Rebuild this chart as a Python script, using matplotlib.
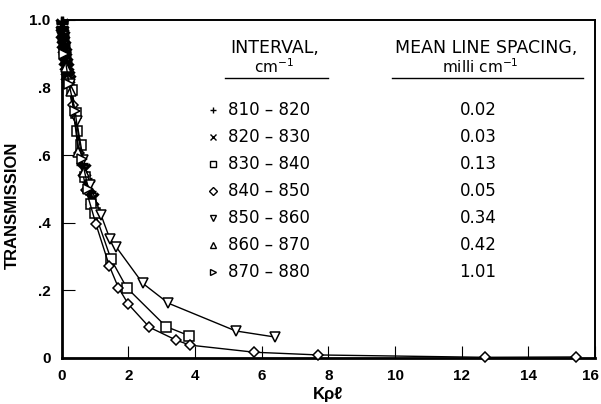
import matplotlib
matplotlib.use("Agg")
import matplotlib.pyplot as plt
import matplotlib.transforms as mtransforms

plt.rcParams['font.family'] = ['Liberation Sans', 'DejaVu Sans']

# ---- data ----
plus_x = [0.0, 0.01, 0.015, 0.02, 0.03, 0.04, 0.05, 0.06, 0.07, 0.09, 0.11, 0.13, 0.62, 0.74, 0.86]
plus_y = [0.995, 0.99, 0.98, 0.97, 0.96, 0.95, 0.94, 0.93, 0.92, 0.905, 0.89, 0.875, 0.575, 0.53, 0.49]

cross_x = [0.01, 0.02, 0.04, 0.05, 0.07, 0.09, 0.11, 0.13, 0.15, 0.17, 0.19, 0.21, 0.68, 0.80, 0.92]
cross_y = [0.985, 0.965, 0.95, 0.935, 0.92, 0.90, 0.885, 0.87, 0.855, 0.84, 0.83, 0.82, 0.555, 0.51, 0.47]

square_x = [0.30, 0.43, 0.47, 0.58, 0.70, 0.88, 1.00, 1.48, 1.95, 3.13, 3.82]
square_y = [0.793, 0.724, 0.672, 0.630, 0.536, 0.455, 0.428, 0.292, 0.208, 0.093, 0.066]

diamond_x = [0.20, 0.35, 0.52, 0.73, 1.03, 1.43, 1.70, 2.00, 2.63, 3.43, 3.85, 5.78, 7.70, 12.69, 15.44]
diamond_y = [0.822, 0.749, 0.607, 0.497, 0.395, 0.272, 0.208, 0.159, 0.091, 0.053, 0.038, 0.017, 0.009, 0.002, 0.003]

tdown_x = [0.25, 0.45, 0.65, 0.85, 1.18, 1.45, 1.63, 2.43, 3.20, 5.22, 6.40]
tdown_y = [0.810, 0.700, 0.585, 0.512, 0.423, 0.351, 0.329, 0.221, 0.162, 0.080, 0.062]

tup_x = [0.12, 0.28, 0.50, 0.68]
tup_y = [0.86, 0.79, 0.61, 0.55]

tright_x = [0.08, 0.22, 0.40, 0.60, 0.80]
tright_y = [0.90, 0.81, 0.73, 0.59, 0.50]

intervals = ["810 \u2013 820", "820 \u2013 830", "830 \u2013 840", "840 \u2013 850",
             "850 \u2013 860", "860 \u2013 870", "870 \u2013 880"]
spacings = ["0.02", "0.03", "0.13", "0.05", "0.34", "0.42", "1.01"]

x_ticks = [0, 2, 4, 6, 8, 10, 12, 14, 16]
x_ticklabels = ["0", "2", "4", "6", "8", "10", "12", "14", "16"]
y_ticks = [0.0, 0.2, 0.4, 0.6, 0.8, 1.0]
y_ticklabels = ["0", ".2", ".4", ".6", ".8", "1.0"]

series = [
    (plus_x, plus_y, '+', 'black'),
    (cross_x, cross_y, 'x', 'black'),
    (square_x, square_y, 's', 'white'),
    (diamond_x, diamond_y, 'D', 'white'),
    (tdown_x, tdown_y, 'v', 'white'),
    (tup_x, tup_y, '^', 'white'),
    (tright_x, tright_y, '>', 'white'),
]

fig = plt.figure(figsize=(6.01, 4.04), dpi=100)
ax = fig.add_axes([0.1027, 0.1139, 0.8873, 0.8366])

for xs, ys, m, fc in series:
    if m in ('+', 'x'):
        ms, mew, lw = 8, 2.4, 2.0
    elif m == 'D':
        ms, mew, lw = 5.5, 1.1, 1.0
    else:
        ms, mew, lw = 6.5, 1.1, 1.0
    ax.plot(xs, ys, color='black', lw=lw, marker=m, ms=ms,
            mfc=fc, mec='black', mew=mew, zorder=3, clip_on=False)

ax.set_xlim(0, 16)
ax.set_ylim(0, 1.0)
ax.set_xticks(x_ticks)
ax.set_xticklabels(x_ticklabels)
ax.set_yticks(y_ticks)
ax.set_yticklabels(y_ticklabels)
ax.tick_params(direction='in', length=9, width=0.8, labelsize=11, pad=8)
for lab in ax.get_xticklabels() + ax.get_yticklabels():
    lab.set_fontweight('bold')
last = ax.get_xticklabels()[-1]
last.set_transform(last.get_transform() +
                   mtransforms.ScaledTranslation(-5 / 100, 0, fig.dpi_scale_trans))
for s in ('left', 'bottom'):
    ax.spines[s].set_linewidth(2.0)
for s in ('top', 'right'):
    ax.spines[s].set_linewidth(1.4)

ax.set_ylabel("TRANSMISSION", fontsize=12, fontweight='bold')
ax.yaxis.set_label_coords(-0.078, 0.453)
ax.set_xlabel("K\u03c1\u2113", fontsize=12, fontweight='bold')
ax.xaxis.set_label_coords(0.5, -0.086)

# ---- table-style legend ----
tf = ['DejaVu Sans']
ax.text(6.40, 0.917, "INTERVAL,", ha='center', va='center', fontsize=12.5, family=tf)
ax.text(6.38, 0.861, "cm$^{-1}$", ha='center', va='center', fontsize=11, family=tf)
ax.plot([4.9, 7.99], [0.828, 0.828], color='black', lw=1.0)
ax.text(12.74, 0.917, "MEAN LINE SPACING,", ha='center', va='center', fontsize=12.5, family=tf)
ax.text(12.55, 0.861, "milli cm$^{-1}$", ha='center', va='center', fontsize=11, family=tf)
ax.plot([9.91, 15.64], [0.828, 0.828], color='black', lw=1.0)

for i, ((xs, ys, m, fc), lab, sp) in enumerate(zip(series, intervals, spacings)):
    yy = (358 - 110 - 27 * i) / 338.0
    ms = 4.5 if m in ('+', 'x') else 4
    ax.plot([4.54], [yy], marker=m, ms=ms, mfc=fc, mec='black', mew=1.0, color='black')
    ax.text(4.99, yy, lab, ha='left', va='center', fontsize=12, family=tf)
    ax.text(12.49, yy, sp, ha='center', va='center', fontsize=12, family=tf)

fig.savefig("out.png", dpi=100)
